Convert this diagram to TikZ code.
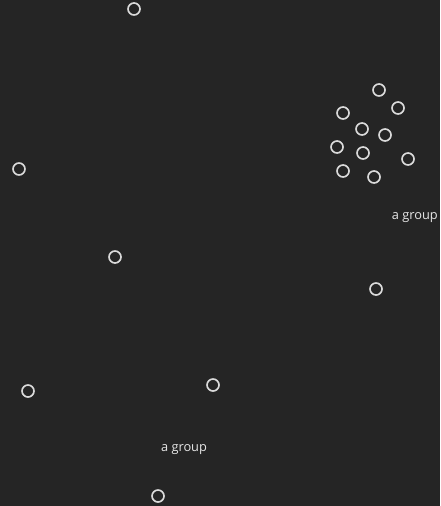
\documentclass[tikz,border=0pt]{standalone}
\usepackage{fontspec}
\setmainfont{Open Sans}
\definecolor{darkbg}{HTML}{252525}
\definecolor{ring}{HTML}{DADADA}
\definecolor{lbltext}{HTML}{E6E6E6}

\begin{document}
\begin{tikzpicture}[x=0.75pt,y=-0.75pt,
  dot/.style={circle,draw=ring,line width=1.25pt,minimum size=9pt,inner sep=0pt},
  lbl/.style={font=\fontsize{9.6}{11}\selectfont,text=lbltext,inner sep=0pt}]

% ---- background
\fill[darkbg] (0,0) rectangle (440,506);

% ---- loose dots
\node[dot] (d1) at (134,9) {};
\node[dot] (d2) at (19,169) {};
\node[dot] (d3) at (115,257) {};
\node[dot] (d4) at (376,289) {};
\node[dot] (d5) at (28,391) {};
\node[dot] (d6) at (213,385) {};
\node[dot] (d7) at (158,496) {};

% ---- cluster, top right
\foreach \i/\x/\y in {1/379/90,2/343/113,3/398/108,4/362/129,5/385/135,
                      6/337/147,7/363/153,8/408/159,9/343/171,10/374/177}
  \node[dot] (g\i) at (\x,\y) {};

% ---- labels
\node[lbl,anchor=east] (grpa) at (438,218) {a group};
\node[lbl] (grpb) at (184,450) {a group};
\end{tikzpicture}
\end{document}
